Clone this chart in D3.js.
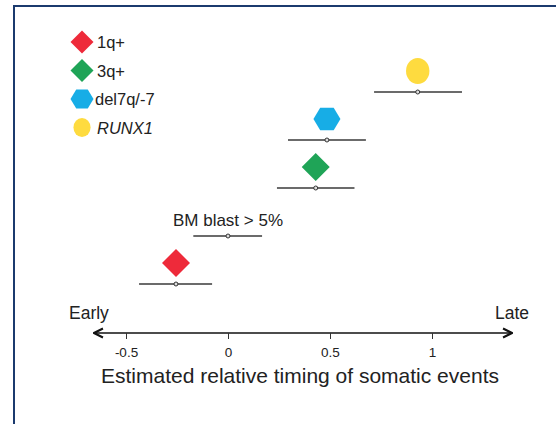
<!DOCTYPE html>
<html>
<head>
<meta charset="utf-8">
<script src="https://cdn.jsdelivr.net/npm/d3@7"></script>
<style>
  body { margin: 0; background: #fff; }
  text { font-family: "Liberation Sans", Arial, sans-serif; fill: #222; }
</style>
</head>
<body>
<div id="chart"></div>
<script>
// Events, ordered bottom to top
var events = ["1q+", "BM blast > 5%", "3q+", "del7q/-7", "RUNX1"];
var estimates = [-0.255, 0.0, 0.43, 0.485, 0.93];
var lowerCI = [-0.436, -0.17, 0.24, 0.294, 0.716];
var upperCI = [-0.078, 0.167, 0.62, 0.676, 1.147];
var shapes = ["diamond", "none", "diamond", "hexagon", "circle"];
var colors = ["#ee2a3a", "none", "#1fa457", "#17ade6", "#fedb3f"];

var legendLabels = ["1q+", "3q+", "del7q/-7", "RUNX1"];
var legendShapes = ["diamond", "diamond", "hexagon", "circle"];
var legendColors = ["#ee2a3a", "#1fa457", "#17ade6", "#fedb3f"];

var xTicks = [-0.5, 0, 0.5, 1];

var svgWidth = 556;
var svgHeight = 424;

var svg = d3
  .select("#chart")
  .append("svg")
  .attr("width", svgWidth)
  .attr("height", svgHeight);

// frame (only top and left edges are visible)
svg.append("line").attr("x1", 14).attr("x2", svgWidth).attr("y1", 6).attr("y2", 6)
  .attr("stroke", "#1b3a6e").attr("stroke-width", 2);
svg.append("line").attr("x1", 14).attr("x2", 14).attr("y1", 5).attr("y2", svgHeight)
  .attr("stroke", "#1b3a6e").attr("stroke-width", 2);

var x = d3.scaleLinear().domain([-0.5, 1]).range([126, 432]);
var y = d3.scalePoint().domain(events).range([284, 92]);

function shapePath(type, size) {
  if (type === "diamond") {
    return `M0,${-size}L${size},0L0,${size}L${-size},0Z`;
  }
  if (type === "hexagon") {
    var pts = d3.range(6).map(function (i) {
      var a = (Math.PI / 3) * i;
      return [size * Math.cos(a), size * 0.96 * Math.sin(a)];
    });
    return "M" + pts.map((p) => p.join(",")).join("L") + "Z";
  }
  return null;
}

function drawShape(g, type, color, size) {
  if (type === "circle") {
    g.append("ellipse").attr("rx", size * 0.9).attr("ry", size).attr("fill", color);
  } else if (type !== "none") {
    g.append("path").attr("d", shapePath(type, size)).attr("fill", color);
  }
}

// error bars
events.forEach(function (ev, i) {
  var yy = y(ev);
  svg.append("line")
    .attr("x1", x(lowerCI[i])).attr("x2", x(upperCI[i]))
    .attr("y1", yy).attr("y2", yy)
    .attr("stroke", "#3a3a3a").attr("stroke-width", 1.3);
  svg.append("circle")
    .attr("cx", x(estimates[i])).attr("cy", yy).attr("r", 2)
    .attr("fill", "#ddd").attr("stroke", "#333").attr("stroke-width", 1);

  var g = svg.append("g").attr("transform", `translate(${x(estimates[i])}, ${yy - 21})`);
  var size = shapes[i] === "circle" ? 13 : shapes[i] === "hexagon" ? 13.5 : 14;
  drawShape(g, shapes[i], colors[i], size);

  if (shapes[i] === "none") {
    svg.append("text")
      .attr("x", x(estimates[i]))
      .attr("y", yy - 10)
      .attr("text-anchor", "middle")
      .attr("font-size", 17)
      .text(ev);
  }
});

// legend
legendLabels.forEach(function (lab, i) {
  var ly = 42 + i * 28.5;
  var g = svg.append("g").attr("transform", `translate(82, ${ly})`);
  drawShape(g, legendShapes[i], legendColors[i], legendShapes[i] === "circle" ? 9.5 : 11.5);
  svg.append("text")
    .attr("x", lab === "del7q/-7" ? 95 : 97)
    .attr("y", ly + 6)
    .attr("font-size", 16.5)
    .attr("font-style", lab === "RUNX1" ? "italic" : "normal")
    .text(lab);
});

// axis
var axisY = 333;
var defs = svg.append("defs");
defs.append("marker")
  .attr("id", "arrow")
  .attr("viewBox", "0 0 10 10")
  .attr("refX", 9).attr("refY", 5)
  .attr("markerWidth", 7).attr("markerHeight", 7)
  .attr("orient", "auto-start-reverse")
  .append("path")
  .attr("d", "M1,1L9,5L1,9")
  .attr("fill", "none").attr("stroke", "#111").attr("stroke-width", 1.8);

svg.append("line")
  .attr("x1", 94).attr("x2", 512)
  .attr("y1", axisY).attr("y2", axisY)
  .attr("stroke", "#111").attr("stroke-width", 1.6)
  .attr("marker-start", "url(#arrow)")
  .attr("marker-end", "url(#arrow)");

var bottomAxis = d3.axisBottom(x).tickValues(xTicks).tickSize(6).tickPadding(8)
  .tickFormat((d) => String(d));
var xAxis = svg.append("g")
  .attr("transform", `translate(0, ${axisY})`)
  .call(bottomAxis);
xAxis.select(".domain").remove();
xAxis.selectAll("line").attr("stroke", "#333");
xAxis.selectAll("text")
  .attr("font-size", 13.5)
  .attr("font-family", "Liberation Sans, Arial, sans-serif")
  .style("fill", "#222");

svg.append("text").attr("x", 69).attr("y", 319).attr("font-size", 17.5).text("Early");
svg.append("text").attr("x", 529).attr("y", 319).attr("font-size", 17.5)
  .attr("text-anchor", "end").text("Late");

svg.append("text")
  .attr("x", 300)
  .attr("y", 383)
  .attr("text-anchor", "middle")
  .attr("font-size", 21)
  .text("Estimated relative timing of somatic events");
</script>
</body>
</html>
